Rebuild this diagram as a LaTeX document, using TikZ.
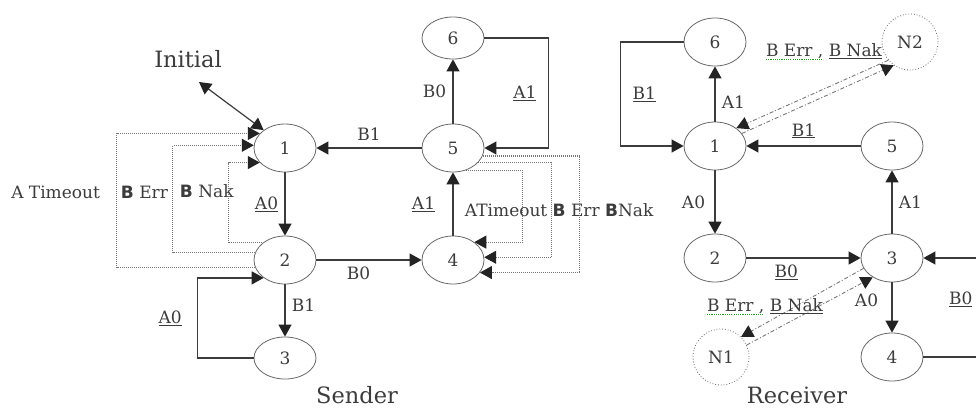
\documentclass[tikz,border=0pt]{standalone}
\usepackage{fontspec}
\setmainfont{DejaVu Serif}
\newfontfamily\sansbold{DejaVu Sans}
\usetikzlibrary{positioning,arrows.meta,shapes.geometric}
\definecolor{ink}{RGB}{60,60,60}
\definecolor{tipink}{RGB}{35,35,35}
\definecolor{rimgray}{RGB}{105,105,105}
\definecolor{loopgray}{RGB}{120,120,120}
\definecolor{spellgreen}{RGB}{40,160,40}
\newcommand{\bB}{{\sansbold\bfseries B}}
\newsavebox{\spellbox}
\newcommand{\spellerr}[1]{\sbox{\spellbox}{#1}%
  \rlap{\textcolor{spellgreen}{\raisebox{-3pt}{\hbox to \wd\spellbox{\xleaders\hbox{\rule{1.2pt}{0.9pt}\hskip1pt}\hfil}}}}%
  \usebox{\spellbox}}

\begin{document}
\begin{tikzpicture}[x=1pt,y=-1pt,on grid,
  every node/.style={font=\fontsize{17}{19}\selectfont,text=ink},
  >={Triangle[length=12pt,width=13pt,color=tipink]},
  state/.style={ellipse,draw=rimgray,thick,minimum width=62pt,minimum height=48pt,inner sep=0pt},
  ghost/.style={circle,draw=rimgray,dotted,thick,minimum size=56pt,inner sep=0pt},
  title/.style={font=\fontsize{22.5}{26}\selectfont},
  edge/.style={->,draw=ink,line width=1.2pt},
  loopline/.style={->,draw=loopgray,line width=1.1pt,dash pattern=on 1pt off 1pt},
  sigline/.style={->,draw=loopgray,line width=0.9pt,dash pattern=on 4pt off 2pt on 1pt off 2pt}
]
\useasboundingbox (0,0) rectangle (976,407);
\fill[white] (0,0) rectangle (976,407);

% sender
\node[state] (s1) at (285,148) {1};
\node[state,below=112pt of s1] (s2) {2};
\node[state,below=98pt of s2,minimum height=42pt] (s3) {3};
\node[state,right=168pt of s1] (s5) {5};
\node[state,right=168pt of s2] (s4) {4};
\node[state,above=110pt of s5,minimum height=42pt] (s6) {6};
\node[title] (initial) at (188,59) {Initial};
\coordinate (initend) at (199,82);
\node[title] (sender) at (357,395) {Sender};

\draw[edge,<->] (initend) -- (s1.140);
\draw[edge] (s1) -- node[left=3pt]{\underline{A0}} (s2);
\draw[edge] (s2) -- node[right=3pt,pos=0.4]{B1} (s3);
\draw[edge] (s2) -- node[below=3pt,pos=0.4]{B0} (s4);
\draw[edge] (s4) -- node[left=14pt]{\underline{A1}} (s5);
\draw[edge] (s5) -- node[left=3pt]{B0} (s6);
\draw[edge] (s5) -- node[above=4pt]{B1} (s1);
\draw[edge] (s6.east) -- ++(64,0) |- node[pos=0.25,left=8pt]{\underline{A1}} (s5);
\draw[edge] (s3) -| node[pos=0.75,left=12pt]{\underline{A0}} ([xshift=-66pt]s2.220) -- (s2.220);

% timeouts and errors back to 1 and 4
\draw[loopline] (s2.194) -| node[pos=0.78,left=13pt]{A Timeout} ([xshift=-143pt]s1.150) -- (s1.150);
\draw[loopline] (s2.165) -| node[pos=0.78,left=1pt]{\bB\ Err} ([xshift=-81pt]s1.175) -- (s1.175);
\draw[loopline] (s2.140) -| node[pos=0.82,xshift=-22pt]{\bB\ Nak} ([xshift=-31pt]s1.210) -- (s1.210);
\draw[loopline] (s5.-60) -| ([xshift=48pt]s4.40) -- (s4.40);
\draw[loopline] (s5.-30) -| node[pos=0.75,xshift=8pt]{ATimeout \bB\ Err \bB Nak} ([xshift=67pt]s4.5) -- (s4.5);
\draw[loopline] (s5.-15) -| ([xshift=100pt]s4.-25) -- (s4.-25);

% receiver
\node[state] (r1) at (715,146) {1};
\node[state,above=104pt of r1] (r6) {6};
\node[state,below=112pt of r1] (r2) {2};
\node[state,right=177pt of r1] (r5) {5};
\node[state,right=177pt of r2] (r3) {3};
\node[state,below=99pt of r3] (r4) {4};
\node[ghost,right=195pt of r6] (n2) {N2};
\node[ghost,below=99pt of r2,xshift=6pt] (n1) {N1};
\node[title] (receiver) at (797,395) {Receiver};

\draw[edge] (r1) -- node[right=3pt,pos=0.35]{A1} (r6);
\draw[edge] (r6.west) -- ++(-63,0) |- node[pos=0.25,right=8pt]{\underline{B1}} (r1);
\draw[edge] (r5) -- node[above=4pt]{\underline{B1}} (r1);
\draw[edge] (r1) -- node[left=6pt]{A0} (r2);
\draw[edge] (r2) -- node[below=3pt,pos=0.35]{\underline{B0}} (r3);
\draw[edge] (r3) -- node[right=3pt]{A1} (r5);
\draw[edge] (r3) -- node[left=10pt,pos=0.35]{A0} (r4);
\draw[edge] (r4.east) -- ++(70,0) |- node[pos=0.29,left=17pt]{\underline{B0}} (r3);

% error links to the noise states
\draw[sigline] (n2.220) -- (r1.40);
\draw[sigline] (r1.25) -- (n2.235);
\node (n2lbl) at (824,52) {\spellerr{B Err ,} \underline{B Nak}};
\draw[sigline] (r3.200) -- (n1.45);
\draw[sigline] (n1.25) -- (r3.225);
\node (n1lbl) at (765,307) {\spellerr{B Err ,} \underline{B Nak}};
\end{tikzpicture}
\end{document}
